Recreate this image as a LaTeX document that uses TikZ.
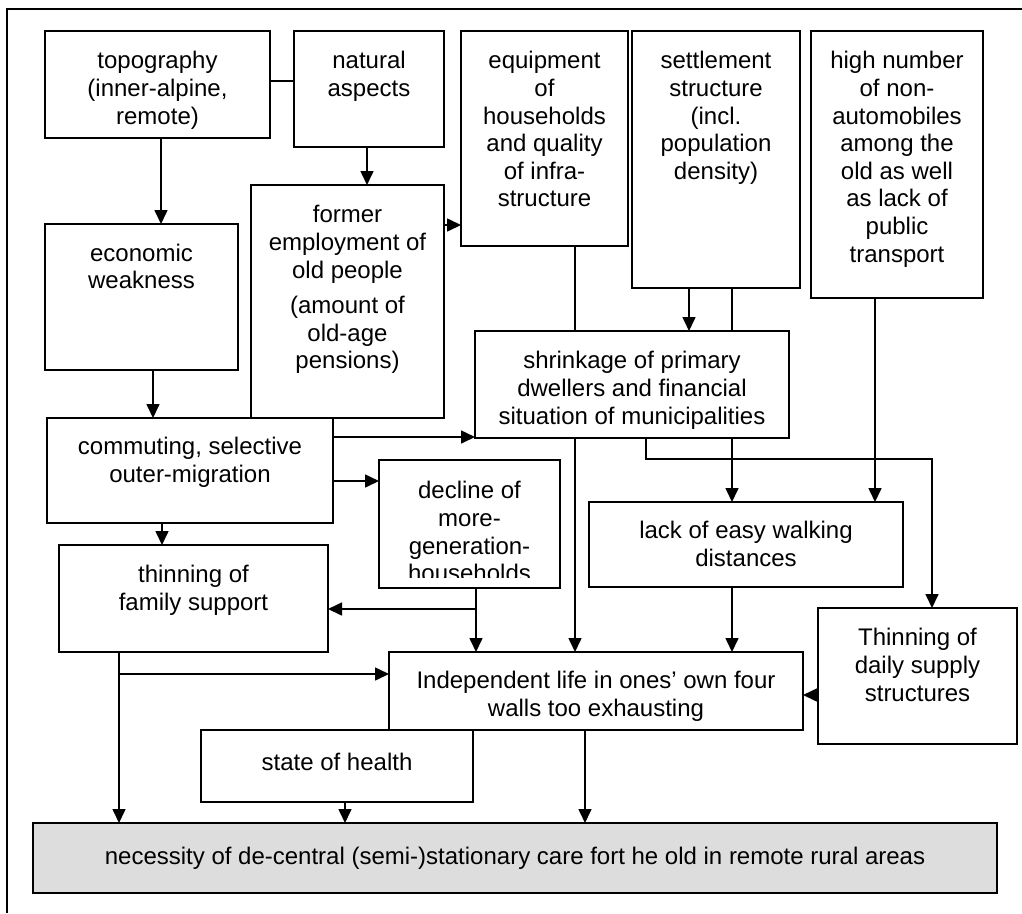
\documentclass[tikz,border=0pt]{standalone}
\usepackage{fontspec}
\setmainfont{Liberation Sans}
\usetikzlibrary{arrows.meta}
\definecolor{boxgray}{RGB}{221,221,221}
\newcommand{\mkbox}[6][]{\node[box,#1, minimum width=#5pt-#3pt, minimum height=#6pt-#4pt] (#2) at (#3,#4) {};}
\begin{document}
\begin{tikzpicture}[x=1pt,y=-1pt,
  box/.style={draw=black, line width=1.6pt, rectangle, inner sep=0pt, outer sep=0pt, anchor=north west},
  txt/.style={align=center, inner sep=0pt, outer sep=0pt, anchor=north, font=\fontsize{24}{27.6}\selectfont, execute at begin node=\strut},
  arr/.style={line width=1.6pt, -{Triangle[length=14pt,width=13pt]}},
  ln/.style={line width=1.6pt}]
\useasboundingbox (0,0) rectangle (1022,913);
% outer frame
\draw[line width=2.6pt] (1022,9) -- (7,9) -- (7,913);
% boxes
\mkbox{topo}{45}{31}{270}{138}
\mkbox{natural}{294}{31}{444}{147}
\mkbox{equip}{461}{31}{628}{246}
\mkbox{settle}{632}{31}{800}{288}
\mkbox{high}{811}{31}{983}{298}
\mkbox{econ}{45}{224}{238}{370}
\mkbox{former}{251}{185}{444}{418}
\mkbox{commut}{47}{418}{333}{523}
\mkbox{shrink}{475}{331}{789}{438}
\mkbox{decline}{379}{460}{560}{588}
\mkbox{lack}{589}{502}{903}{587}
\mkbox{family}{59}{545}{328}{652}
\mkbox{daily}{818}{608}{1017}{744}
\mkbox{indep}{389}{652}{803}{730}
\mkbox{health}{201}{730}{473}{802}
\mkbox[fill=boxgray]{necess}{33}{823}{997}{893}
% texts
\node[txt] (topoT) at (157.5,51.5) {topography\\(inner-alpine,\\remote)};
\node[txt] (natT) at (369,51.5) {natural\\aspects};
\node[txt] (equipT) at (544.5,51.5) {equipment\\of\\households\\and quality\\of infra-\\structure};
\node[txt] (settleT) at (716,51.5) {settlement\\structure\\(incl.\\population\\density)};
\node[txt] (highT) at (897,51.5) {high number\\of non-\\automobiles\\among the\\old as well\\as lack of\\public\\transport};
\node[txt] (econT) at (141.5,244) {economic\\weakness};
\node[txt] (formerT) at (347.5,205.5) {former\\employment of\\old people\\[8pt](amount of\\old-age\\pensions)};
\node[txt] (commutT) at (190,437.5) {commuting, selective\\outer-migration};
\node[txt] (shrinkT) at (632,351.5) {shrinkage of primary\\dwellers and financial\\situation of municipalities};
\begin{scope}
\clip (379,460) rectangle (560,577);
\node[txt] (declineT) at (469.5,481.5) {decline of\\more-\\generation-\\households};
\end{scope}
\node[txt] (lackT) at (746,521.5) {lack of easy walking\\distances};
\node[txt] (familyT) at (193.5,565.5) {thinning of\\family support};
\node[txt] (dailyT) at (917.5,628.5) {Thinning of\\daily supply\\structures};
\begin{scope}
\clip (389,652) rectangle (803,722);
\node[txt] (indepT) at (596,671.5) {Independent life in ones’ own four\\walls too exhausting};
\end{scope}
\node[txt] (healthT) at (337,751.5) {state of health};
\node[txt] (necessT) at (515,845.5) {necessity of de-central (semi-)stationary care fort he old in remote rural areas};
% connectors
\draw[ln] (topo.east |- 0,81) -- (natural.west |- 0,81);
\draw[arr] (topo.south -| 161,0) -- (econ.north -| 161,0);
\draw[arr] (natural.south -| 367,0) -- (former.north -| 367,0);
\draw[arr] (former.east |- 0,225) -- (equip.west |- 0,225);
\draw[arr] (econ.south -| 153,0) -- (commut.north -| 153,0);
\draw[arr] (commut.east |- 0,437) -- (shrink.west |- 0,437);
\draw[arr] (commut.east |- 0,481) -- (decline.west |- 0,481);
\draw[arr] (commut.south -| 162,0) -- (family.north -| 162,0);
\draw[ln] (equip.south -| 575,0) -- (shrink.north -| 575,0);
\draw[arr] (shrink.south -| 575,0) -- (indep.north -| 575,0);
\draw[arr] (settle.south -| 689,0) -- (shrink.north -| 689,0);
\draw[ln] (settle.south -| 732,0) -- (shrink.north -| 732,0);
\draw[arr] (shrink.south -| 732,0) -- (lack.north -| 732,0);
\draw[arr] (high.south -| 875,0) -- (lack.north -| 875,0);
\draw[arr] (shrink.south -| 646,0) -- ++(0,21) -| (daily.north -| 932,0);
\draw[arr] (decline.south -| 476,0) -- (indep.north -| 476,0);
\coordinate (j1) at (476,609);
\draw[arr] (j1) -- (family.east |- j1);
\draw[arr] (lack.south -| 732,0) -- (indep.north -| 732,0);
\draw[arr] (family.south -| 119,0) -- (necess.north -| 119,0);
\coordinate (j2) at (119,674);
\draw[arr] (j2) -- (indep.west |- j2);
\draw[arr] (daily.west |- 0,695) -- (indep.east |- 0,695);
\draw[arr] (health.south -| 345,0) -- (necess.north -| 345,0);
\draw[arr] (indep.south -| 585,0) -- (necess.north -| 585,0);
\end{tikzpicture}
\end{document}
